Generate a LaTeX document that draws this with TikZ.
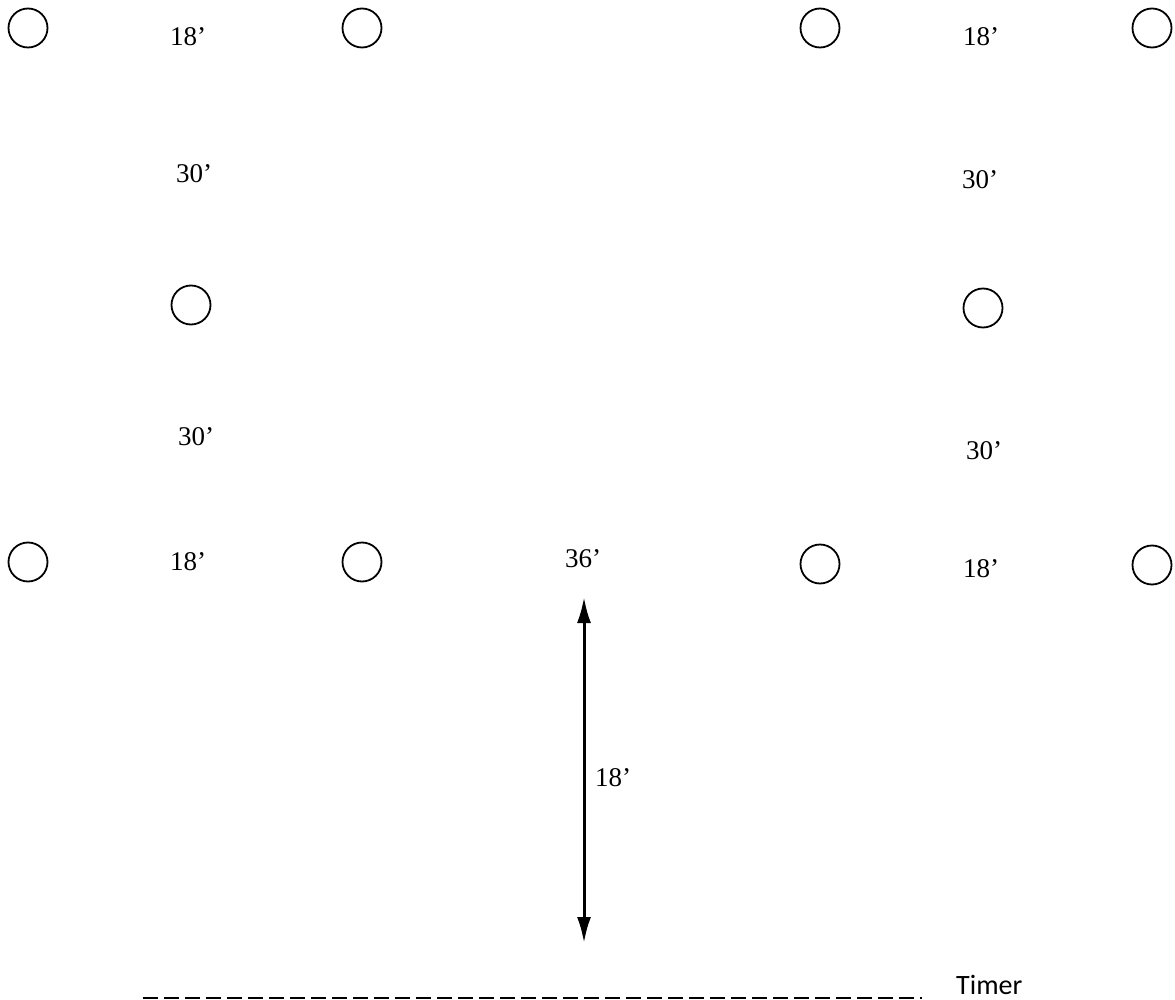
\documentclass[tikz,border=0pt]{standalone}
\usepackage{fontspec}
\setmainfont{Liberation Serif}
\newfontfamily\timerfont{Carlito}
\usetikzlibrary{arrows.meta}
\begin{document}
\begin{tikzpicture}[x=1pt,y=-1pt,
  post/.style={circle,draw,line width=1.8pt,minimum size=39pt,inner sep=0pt},
  dim/.style={font=\fontsize{27}{30}\selectfont,inner sep=0pt},
  dimarrow/.style={line width=3pt,{Latex[length=26pt,width=14pt]}-{Latex[length=26pt,width=14pt]}},
  timerline/.style={line width=2.2pt,dash pattern=on 15pt off 6pt}]
\useasboundingbox (0,0) rectangle (1175,1000);
% posts
\node[post] (p1) at (28,28) {};
\node[post] (p2) at (362,28) {};
\node[post] (p3) at (820,28) {};
\node[post] (p4) at (1152,28) {};
\node[post] (p5) at (191,305) {};
\node[post] (p6) at (983,308) {};
\node[post] (p7) at (28,562) {};
\node[post] (p8) at (362,562) {};
\node[post] (p9) at (820,564) {};
\node[post] (p10) at (1152,565) {};
% labels
\node[dim] (l1) at (188,37) {18’};
\node[dim] (l2) at (981,37) {18’};
\node[dim] (l3) at (194,174) {30’};
\node[dim] (l4) at (980,180) {30’};
\node[dim] (l5) at (196,437) {30’};
\node[dim] (l6) at (984,451) {30’};
\node[dim] (l7) at (188,562) {18’};
\node[dim] (l8) at (583,559) {36’};
\node[dim] (l9) at (981,569) {18’};
\node[dim] (l10) at (613,778) {18’};
% arrow
\coordinate (at) at (584,597);
\coordinate (ab) at (584,943);
\draw[dimarrow] (at) -- (ab);
% timer line
\coordinate (ts) at (143,998);
\coordinate (te) at (922,998);
\draw[timerline] (ts) -- (te);
\node[font=\timerfont\fontsize{28}{32}\selectfont,anchor=base west,inner sep=0pt] (timer) at (956,994) {Timer};
\end{tikzpicture}
\end{document}
